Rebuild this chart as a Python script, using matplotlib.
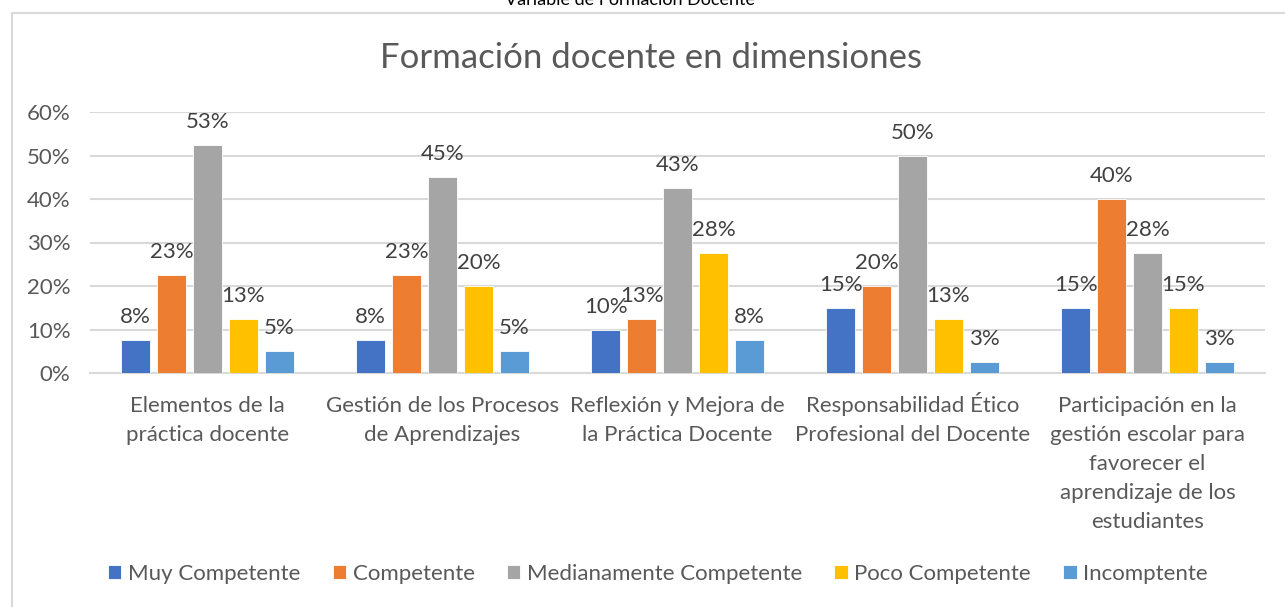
import numpy as np
import matplotlib
matplotlib.use("Agg")
import matplotlib.pyplot as plt
from matplotlib.patches import Rectangle
from matplotlib.ticker import FuncFormatter

# Datos (porcentajes)
categorias = [
    "Elementos de la\npráctica docente",
    "Gestión de los Procesos\nde Aprendizajes",
    "Reflexión y Mejora de\nla Práctica Docente",
    "Responsabilidad Ético\nProfesional del Docente",
    "Participación en la\ngestión escolar para\nfavorecer el\naprendizaje de los\nestudiantes",
]
niveles = ["Muy Competente", "Competente", "Medianamente Competente", "Poco Competente", "Incomptente"]
muy_competente = [7.5, 7.5, 10.0, 15.0, 15.0]
competente = [22.5, 22.5, 12.5, 20.0, 40.0]
medianamente = [52.5, 45.0, 42.5, 50.0, 27.5]
poco_competente = [12.5, 20.0, 27.5, 12.5, 15.0]
incompetente = [5.0, 5.0, 7.5, 2.5, 2.5]
series = [muy_competente, competente, medianamente, poco_competente, incompetente]
colores = ["#4472C4", "#ED7D31", "#A5A5A5", "#FFC000", "#5B9BD5"]

plt.rcParams["font.family"] = ["Lato", "DejaVu Sans"]
gris = "#595959"

fig = plt.figure(figsize=(12.85, 6.07), dpi=100)
ax = fig.add_axes([90 / 1285, 1 - 373 / 607, 1175 / 1285, 261 / 607])

# marco del gráfico
fig.patches.append(Rectangle((12 / 1285, -0.1), 1.2, 1 - 13 / 607 + 0.1,
                             transform=fig.transFigure, fill=False,
                             edgecolor="#D9D9D9", linewidth=1.5))
fig.text(0.49, 1.0, "Variable de Formación Docente", ha="center", va="center",
         fontsize=13, color="black")

x = np.arange(len(categorias))
paso = 0.153
ancho = 0.12
for i, (vals, col, nom) in enumerate(zip(series, colores, niveles)):
    pos = x + (i - 2) * paso
    barras = ax.bar(pos, vals, width=ancho, color=col, label=nom,
                    edgecolor="white", linewidth=0.6, zorder=3)
    for b, v in zip(barras, vals):
        ax.annotate(f"{int(np.floor(v + 0.5))}%", (b.get_x() + b.get_width() / 2, v),
                    xytext=(0, 16.5), textcoords="offset points",
                    ha="center", va="center", fontsize=16, color="#404040")

ax.set_ylim(0, 60)
ax.set_xlim(-0.5, len(categorias) - 0.5)
ax.set_yticks(np.arange(0, 61, 10))
ax.yaxis.set_major_formatter(FuncFormatter(lambda v, p: f"{int(v)}%"))
ax.set_xticks(x)
ax.set_xticklabels([])
ax.tick_params(axis="both", length=0, labelsize=16, labelcolor=gris)
ax.tick_params(axis="y", pad=14)

# etiquetas de categoría, línea por línea (base alineada)
px = 72 / 100
for xi, cat in zip(x, categorias):
    for j, linea in enumerate(cat.split("\n")):
        ax.annotate(linea, (xi, 0), xycoords=("data", "axes fraction"),
                    xytext=(0, -(39 + 29 * j) * px), textcoords="offset points",
                    ha="center", va="baseline", fontsize=16, color=gris)

ax.grid(axis="y", color="#D9D9D9", linewidth=1.5, zorder=0)
for s in ["top", "right", "left"]:
    ax.spines[s].set_visible(False)
ax.spines["bottom"].set_color("#D9D9D9")
ax.spines["bottom"].set_linewidth(1.5)

fig.text(0.507, 1 - 58 / 607, "Formación docente en dimensiones", ha="center", va="center",
         fontsize=25, color=gris)

fig.legend(loc="center", bbox_to_anchor=(0.512, 1 - 574 / 607), ncol=5, frameon=False,
           fontsize=16, labelcolor=gris, handlelength=0.6, handleheight=0.6,
           handletextpad=0.3, columnspacing=1.45)

fig.savefig("out.png", dpi=100)
